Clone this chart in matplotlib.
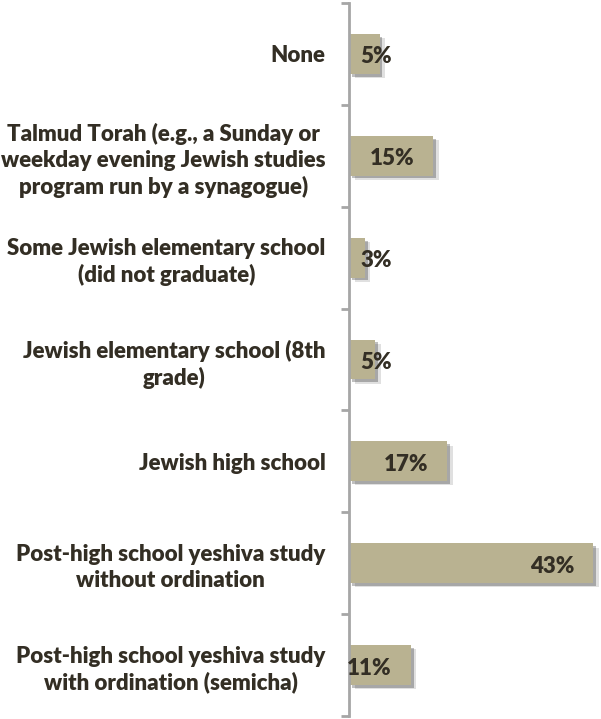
import matplotlib
matplotlib.use("Agg")
import matplotlib.pyplot as plt
import matplotlib.patheffects as pe
import numpy as np

# data (top to bottom)
categories = [
    "None",
    "Talmud Torah (e.g., a Sunday or\nweekday evening Jewish studies\nprogram run by a synagogue)",
    "Some Jewish elementary school\n(did not graduate)",
    "Jewish elementary school (8th\ngrade)",
    "Jewish high school",
    "Post-high school yeshiva study\nwithout ordination",
    "Post-high school yeshiva study\nwith ordination (semicha)",
]
values = [5.4, 14.8, 2.8, 4.6, 17.3, 43.0, 10.9]
value_labels = ["5%", "15%", "3%", "5%", "17%", "43%", "11%"]

bar_color = "#B9B291"
text_color = "#332E24"
axis_color = "#A6A6A6"

plt.rcParams["font.family"] = ["Lato", "DejaVu Sans"]
fsize = 16
fweight = "heavy"

fig = plt.figure(figsize=(6.01, 7.19), dpi=100)
ax = fig.add_axes([349 / 601, 3 / 719, 252 / 601, 713 / 719])

n = len(categories)
y = np.arange(n)
shadow = [pe.SimplePatchShadow(offset=(4, -3), shadow_rgbFace="#000000", alpha=0.12),
          pe.SimplePatchShadow(offset=(2, -2), shadow_rgbFace="#000000", alpha=0.25),
          pe.Normal()]
bars = ax.barh(y, values, height=0.39, color=bar_color, linewidth=0)
for b in bars:
    b.set_path_effects(shadow)

ax.set_xlim(0, 44.4)
ax.set_ylim(n - 0.5, -0.5)

# value labels: inside end for long bars, near the axis for short ones
px = 44.4 / 252  # data units per pixel
for yi, v, lab in zip(y, values, value_labels):
    if v / px > 45:
        ax.text(v - 19 * px, yi + 0.03, lab, ha="right", va="center",
                fontsize=fsize, fontweight=fweight, color=text_color)
    else:
        ax.text(27 * px, yi + 0.03, lab, ha="center", va="center",
                fontsize=fsize, fontweight=fweight, color=text_color)

# axis: ticks at category boundaries, labels at centers
ax.set_yticks(np.arange(-0.5, n, 1))
ax.set_yticklabels([])
ax.set_yticks(y, minor=True)
ax.set_yticklabels(categories, minor=True)
ax.tick_params(axis="y", which="major", length=6, width=2, color=axis_color, direction="out")
ax.tick_params(axis="y", which="minor", length=0, pad=17, labelsize=fsize, labelcolor=text_color)
for t in ax.get_yticklabels(minor=True):
    t.set_fontweight(fweight)
    t.set_multialignment("center")
    t.set_linespacing(1.28)
    t.set_y(t.get_position()[1])

ax.set_xticks([])
for s in ["top", "right", "bottom"]:
    ax.spines[s].set_visible(False)
ax.spines["left"].set_color(axis_color)
ax.spines["left"].set_linewidth(2)

fig.savefig("out.png", dpi=100)
